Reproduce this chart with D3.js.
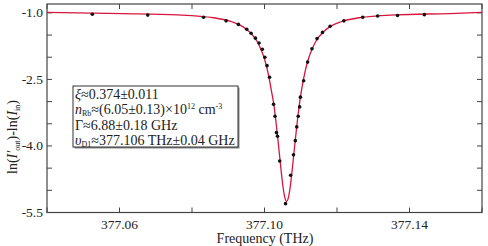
<!DOCTYPE html>
<html>
<head>
<meta charset="utf-8">
<script src="https://cdn.jsdelivr.net/npm/d3@7"></script>
<style>
  body { margin: 0; background: #fff; }
</style>
</head>
<body>
<svg width="488" height="246"></svg>
<script>
// measured points (THz, ln ratio)
const freqs = [377.0525, 377.0678, 377.0832, 377.0894, 377.0928, 377.0951, 377.0963, 377.0975,
    377.0985, 377.0994, 377.1001, 377.1007, 377.1014, 377.1025, 377.1029, 377.1033, 377.1036,
    377.1042, 377.1058, 377.1072, 377.1080, 377.1085, 377.1089, 377.1093, 377.1097, 377.1099,
    377.1108, 377.1119, 377.1131, 377.1145, 377.1160, 377.1181, 377.1219, 377.1271, 377.1312,
    377.1367, 377.1441];
const values = [-1.03, -1.05, -1.10, -1.18, -1.26, -1.37, -1.46, -1.57,
    -1.68, -1.82, -2.00, -2.19, -2.45, -3.06, -3.33, -3.70, -3.78,
    -4.34, -5.30, -4.66, -4.20, -3.88, -3.57, -3.33, -3.12, -2.90,
    -2.53, -2.11, -1.81, -1.58, -1.44, -1.30, -1.18, -1.10, -1.07,
    -1.06, -1.04];

// fitted curve
const fitFreqs = [377.040, 377.061, 377.076, 377.086, 377.091, 377.094, 377.096, 377.098,
    377.099, 377.100, 377.101, 377.102, 377.1026, 377.1031, 377.1036, 377.1041, 377.1046,
    377.1051, 377.1056, 377.1061, 377.1066, 377.1071, 377.1076, 377.1081, 377.1086, 377.1091,
    377.1096, 377.1101, 377.1111, 377.1121, 377.1131, 377.1141, 377.1161, 377.1181, 377.1211,
    377.1261, 377.1361, 377.1511, 377.160];
const fitValues = [-0.99, -1.015, -1.045, -1.11, -1.20, -1.31, -1.44, -1.65,
    -1.82, -2.04, -2.36, -2.80, -3.08, -3.41, -3.78, -4.17, -4.57,
    -4.92, -5.16, -5.25, -5.16, -4.92, -4.57, -4.17, -3.78, -3.41,
    -3.08, -2.80, -2.36, -2.04, -1.82, -1.65, -1.44, -1.31, -1.20,
    -1.11, -1.045, -1.015, -0.99];

const xTicks = [377.04, 377.06, 377.08, 377.10, 377.12, 377.14, 377.16];
const xLabels = [377.06, 377.10, 377.14];
const yTicks = [-5.5, -5.0, -4.5, -4.0, -3.5, -3.0, -2.5, -2.0, -1.5, -1.0];
const yLabels = [-5.5, -4.0, -2.5, -1.0];

const serif = '"Liberation Serif", "Times New Roman", serif';
const svg = d3.select("svg").style("font-family", serif).style("fill", "#222");
const x0 = 47, x1 = 482, y0 = 4, y1 = 212.5;

const x = d3.scaleLinear().domain([377.04, 377.16]).range([x0, x1]);
const y = d3.scaleLinear().domain([-5.5, -0.8]).range([y1, y0]);

const frame = "#444";
const tl = 5;

// ticks (inward on all four sides)
const tg = svg.append("g").attr("stroke", frame).attr("stroke-width", 1);
xTicks.forEach(t => {
    tg.append("line").attr("x1", x(t)).attr("x2", x(t)).attr("y1", y1).attr("y2", y1 - tl);
    tg.append("line").attr("x1", x(t)).attr("x2", x(t)).attr("y1", y0).attr("y2", y0 + tl);
});
yTicks.forEach(t => {
    tg.append("line").attr("x1", x0).attr("x2", x0 + tl).attr("y1", y(t)).attr("y2", y(t));
    tg.append("line").attr("x1", x1).attr("x2", x1 - tl).attr("y1", y(t)).attr("y2", y(t));
});

svg.selectAll(".xl").data(xLabels).enter().append("text")
    .attr("x", d => x(d)).attr("y", 229)
    .attr("text-anchor", "middle")
    .style("font-family", serif).style("font-size", "13.5px")
    .text(d => d.toFixed(2));

svg.selectAll(".yl").data(yLabels).enter().append("text")
    .attr("x", 43).attr("y", d => y(d) + 4.5)
    .attr("text-anchor", "end")
    .style("font-family", serif).style("font-size", "13.5px")
    .text(d => d.toFixed(1));

svg.append("text").attr("x", 265).attr("y", 243)
    .attr("text-anchor", "middle")
    .style("font-family", serif).style("font-size", "14px")
    .text("Frequency (THz)");

const yl = svg.append("text")
    .attr("transform", "translate(17,137) rotate(-90)")
    .attr("text-anchor", "middle")
    .style("font-family", serif).style("font-size", "14px");
yl.append("tspan").text("ln(");
yl.append("tspan").style("font-style", "italic").text("I′");
yl.append("tspan").style("font-size", "8px").attr("dy", 3).text("out");
yl.append("tspan").attr("dy", -3).text(")-ln(");
yl.append("tspan").style("font-style", "italic").text("I");
yl.append("tspan").style("font-size", "8px").attr("dy", 3).text("in");
yl.append("tspan").attr("dy", -3).text(")");

// fit line
svg.append("path")
    .datum(fitFreqs.map((f, i) => [f, fitValues[i]]))
    .style("fill", "none").attr("stroke", "#d6163e").attr("stroke-width", 1.3)
    .attr("d", d3.line().x(d => x(d[0])).y(d => y(d[1])).curve(d3.curveMonotoneX));

// data points
svg.selectAll("circle").data(freqs).enter().append("circle")
    .attr("cx", d => x(d)).attr("cy", (d, i) => y(values[i]))
    .attr("r", 1.8).style("fill", "#111");

// frame
svg.append("rect").attr("x", x0).attr("y", y0)
    .attr("width", x1 - x0).attr("height", y1 - y0)
    .style("fill", "none").attr("stroke", frame).attr("stroke-width", 1.2);

// parameter box
const bx = 73, by = 86, bw = 165, bh = 61;
svg.append("rect").attr("x", bx + 1.5).attr("y", by + 1.5).attr("width", bw).attr("height", bh)
    .style("fill", "#888");
svg.append("rect").attr("x", bx).attr("y", by).attr("width", bw).attr("height", bh)
    .style("fill", "#fff").attr("stroke", "#333").attr("stroke-width", 1);

const fs = "14px", sub = "8px";
const t1 = svg.append("text").attr("x", bx + 2).attr("y", by + 13).style("font-size", fs);
t1.append("tspan").style("font-style", "italic").text("ξ");
t1.append("tspan").text("≈0.374±0.011");

const t2 = svg.append("text").attr("x", bx + 2).attr("y", by + 28).style("font-size", fs);
t2.append("tspan").style("font-style", "italic").text("n");
t2.append("tspan").style("font-size", sub).attr("dy", 2).text("Rb");
t2.append("tspan").attr("dy", -2).text("≈(6.05±0.13)×10");
t2.append("tspan").style("font-size", sub).attr("dy", -5).text("12");
t2.append("tspan").attr("dy", 5).text(" cm");
t2.append("tspan").style("font-size", sub).attr("dy", -5).text("-3");

const t3 = svg.append("text").attr("x", bx + 2).attr("y", by + 44).style("font-size", fs);
t3.text("Γ≈6.88±0.18 GHz");

const t4 = svg.append("text").attr("x", bx + 2).attr("y", by + 59).style("font-size", fs);
t4.append("tspan").style("font-style", "italic").text("υ");
t4.append("tspan").style("font-size", sub).attr("dy", 2).text("D1");
t4.append("tspan").attr("dy", -2).text("≈377.106 THz±0.04 GHz");
</script>
</body>
</html>
